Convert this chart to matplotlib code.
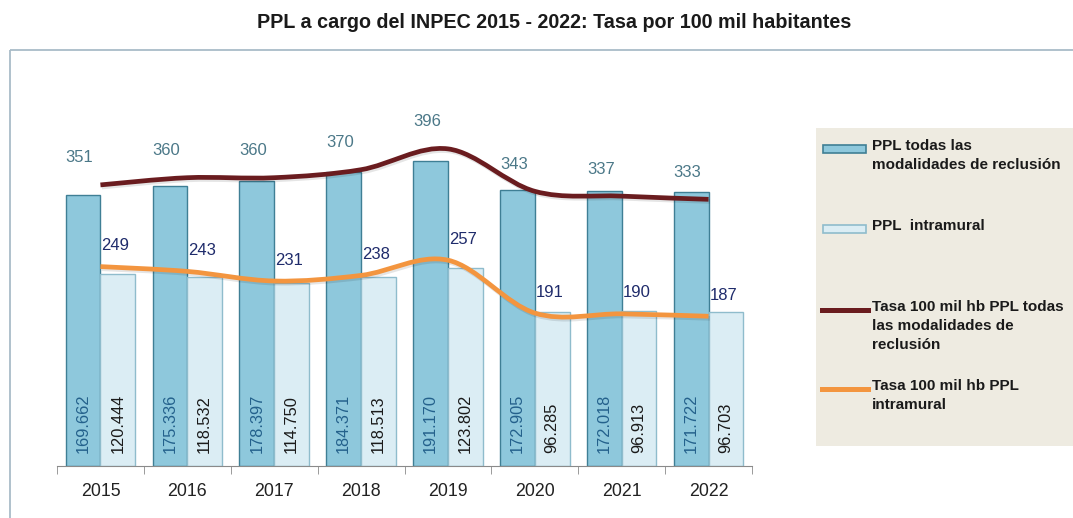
import numpy as np
import matplotlib
matplotlib.use("Agg")
import matplotlib.pyplot as plt
import matplotlib.patheffects as pe
from matplotlib.path import Path
from matplotlib.patches import PathPatch, Rectangle
from matplotlib.lines import Line2D

plt.rcParams["font.family"] = ["Liberation Sans", "DejaVu Sans"]

# Data.
years = ["2015", "2016", "2017", "2018", "2019", "2020", "2021", "2022"]
rate_total = [351, 360, 360, 370, 396, 343, 337, 333]
rate_intramural = [249, 243, 231, 238, 257, 191, 190, 187]
ppl_total = [169662, 175336, 178397, 184371, 191170, 172905, 172018, 171722]
ppl_intramural = [120444, 118532, 114750, 118513, 123802, 96285, 96913, 96703]

title = "PPL a cargo del INPEC 2015 - 2022: Tasa por 100 mil habitantes"
legend_labels = ["PPL todas las\nmodalidades de reclusión",
                 "PPL  intramural",
                 "Tasa 100 mil hb PPL todas\nlas modalidades de\nreclusión",
                 "Tasa 100 mil hb PPL\nintramural"]

# Colours.
dark_bar = "#8ec8dc"
dark_edge = "#3f7f95"
light_bar = "#dbedf4"
light_edge = "#8fbccc"
dark_line = "#6a1c1f"
orange_line = "#f3953f"

W, H = 1073, 518


def fmt(v):
    return "{:,}".format(v).replace(",", ".")


def smooth_path(xs, ys):
    # Excel-like smoothed line as cubic Bezier segments through the points.
    pts = np.column_stack([xs, ys]).astype(float)
    ext = np.vstack([pts[0], pts, pts[-1]])
    verts = [pts[0]]
    codes = [Path.MOVETO]
    for i in range(len(pts) - 1):
        p0, p1, p2, p3 = ext[i], ext[i + 1], ext[i + 2], ext[i + 3]
        verts += [p1 + (p2 - p0) / 6, p2 - (p3 - p1) / 6, p2]
        codes += [Path.CURVE4] * 3
    return Path(verts, codes)


fig = plt.figure(figsize=(W / 100, H / 100), dpi=100)

# Background overlay in pixel coordinates (frame + legend).
bg = fig.add_axes([0, 0, 1, 1], zorder=0)
bg.set_xlim(0, W)
bg.set_ylim(H, 0)
bg.axis("off")
bg.add_patch(Rectangle((10, 50), W + 20, H, fill=False,
                       edgecolor="#a9bcc8", linewidth=1.3))
bg.add_patch(Rectangle((816, 128), W, 318, facecolor="#eeebe1",
                       edgecolor="none"))

# Main axes: bars show the population counts.
ax = fig.add_axes([57 / W, (H - 466) / H, 695 / W, 386 / H], zorder=2)
ax.patch.set_alpha(0)
x = np.arange(len(years))
width = 0.4

ax.bar(x - width / 2, ppl_total, width, color=dark_bar,
       edgecolor=dark_edge, linewidth=1.0, zorder=2)
ax.bar(x + width / 2, ppl_intramural, width, color=light_bar,
       edgecolor=light_edge, linewidth=1.0, zorder=2)

ax.set_xlim(-0.5, len(years) - 0.5)
ax.set_ylim(0, 241700)
for side in ["top", "left", "right"]:
    ax.spines[side].set_visible(False)
ax.spines["bottom"].set_color("#8a8a8a")
ax.set_yticks([])
ax.set_xticks(x)
ax.set_xticklabels(years, fontsize=12.8, color="#222222")
ax.tick_params(axis="x", which="major", length=0, pad=12)
ax.set_xticks(np.arange(-0.5, len(years), 1.0), minor=True)
ax.tick_params(axis="x", which="minor", length=6, color="#8a8a8a")

# Values inside bars.
for i in range(len(years)):
    ax.annotate(fmt(ppl_total[i]), (x[i] - width / 2, 0), xytext=(0, 13),
                textcoords="offset pixels", rotation=90, ha="center",
                va="bottom", fontsize=11.8, color="#24618c", zorder=4)
    ax.annotate(fmt(ppl_intramural[i]), (x[i] + width / 2, 0),
                xytext=(0, 13), textcoords="offset pixels", rotation=90,
                ha="center", va="bottom", fontsize=11.8, color="#1a1a1a",
                zorder=4)

# Rate lines on a secondary scale.
ax2 = ax.twinx()
ax2.set_ylim(0, 482)
ax2.axis("off")
shadow = [pe.SimpleLineShadow(offset=(1, -1.5), alpha=0.1),
          pe.Normal()]
for vals, col in [(rate_total, dark_line), (rate_intramural, orange_line)]:
    patch = PathPatch(smooth_path(x, vals), facecolor="none", edgecolor=col,
                      linewidth=3.4, capstyle="butt", zorder=5)
    patch.set_path_effects(shadow)
    ax2.add_patch(patch)

for i in range(len(years)):
    ax2.annotate(str(rate_total[i]), (x[i], rate_total[i]),
                 xytext=(-21, 27), textcoords="offset pixels", ha="center",
                 va="center", fontsize=12, color="#4b7888")
    ax2.annotate(str(rate_intramural[i]), (x[i], rate_intramural[i]),
                 xytext=(15, 21), textcoords="offset pixels", ha="center",
                 va="center", fontsize=12, color="#1f2b6b")

# Legend.
handles = [("bar", dark_bar, dark_edge), ("bar", light_bar, light_edge),
           ("line", dark_line, None), ("line", orange_line, None)]
legend_y = [149, 229, 310, 389]
for (kind, col, edge), label, y in zip(handles, legend_labels, legend_y):
    if kind == "bar":
        bg.add_patch(Rectangle((823, y - 4), 43, 8, facecolor=col,
                               edgecolor=edge, linewidth=1.2))
    else:
        bg.add_line(Line2D([822, 868], [y, y], color=col, linewidth=3.6))
    bg.text(872, y - 10, label, ha="left", va="top", fontsize=11,
            fontweight="bold", color="#1a1a1a", linespacing=1.45)

fig.text(554 / W, 1 - 22 / H, title, ha="center", va="center",
         fontsize=14.2, fontweight="bold", color="#1a1a1a")

fig.savefig("out.png", dpi=100)
